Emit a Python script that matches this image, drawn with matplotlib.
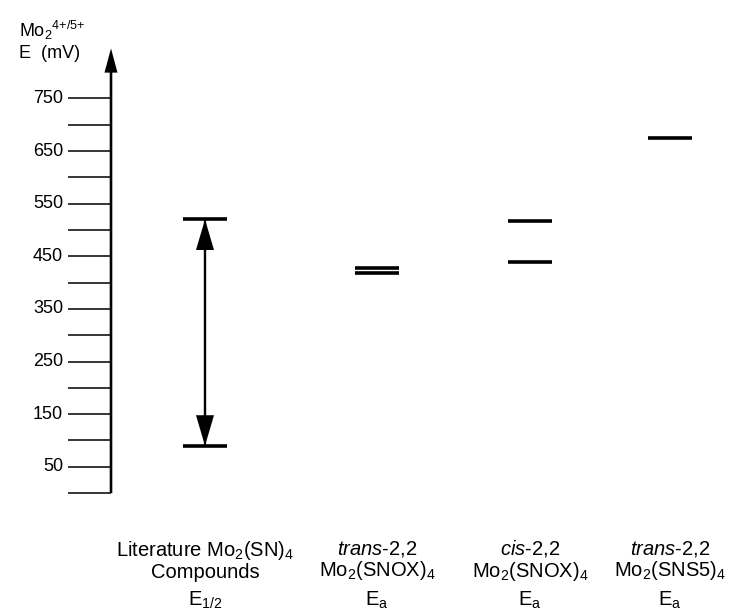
import matplotlib
matplotlib.use("Agg")
import matplotlib.pyplot as plt

plt.rcParams['font.family'] = ['Liberation Sans', 'DejaVu Sans']
plt.rcParams['mathtext.fontset'] = 'custom'
plt.rcParams['mathtext.rm'] = 'Liberation Sans'
plt.rcParams['mathtext.it'] = 'Liberation Sans:italic'
plt.rcParams['mathtext.default'] = 'regular'

# potentials (mV) for each compound group
lit_levels = [520, 90]
trans_snox = [428, 418]
cis_snox = [517, 440]
trans_sns5 = [674]

groups = [
    r"Literature Mo$_2$(SN)$_4$" + "\nCompounds",
    r"$\mathit{trans}$-2,2" + "\n" + r"Mo$_2$(SNOX)$_4$",
    r"$\mathit{cis}$-2,2" + "\n" + r"Mo$_2$(SNOX)$_4$",
    r"$\mathit{trans}$-2,2" + "\n" + r"Mo$_2$(SNS5)$_4$",
]
e_labels = [r"E$_{1/2}$", r"E$_a$", r"E$_a$", r"E$_a$"]
level_sets = [lit_levels, trans_snox, cis_snox, trans_sns5]

tick_vals = list(range(0, 800, 50))
label_vals = list(range(50, 800, 100))

fig = plt.figure(figsize=(7.30, 6.11), dpi=100)
ax = fig.add_axes([0, 0, 1, 1])
ax.set_xlim(0, 730)
ax.set_ylim(-224, 937)
ax.axis('off')

x_axis = 111
centers = [205, 377, 530, 670]
half = 22

# vertical axis with arrow
ax.arrow(x_axis, 0, 0, 845, width=2.6, head_width=13, head_length=46,
         length_includes_head=True, color='black', lw=0)

for v in tick_vals:
    ax.hlines(v, 68, x_axis, color='black', lw=1.1)
for v in label_vals:
    ax.text(63, v, str(v), ha='right', va='center', fontsize=13)

ax.text(19, 880, r"Mo$_2$$^{4{+}/5{+}}$", ha='left', va='center', fontsize=13)
ax.text(19, 836, "E  (mV)", ha='left', va='center', fontsize=13)

# energy levels
for c, levels in zip(centers, level_sets):
    for v in levels:
        ax.hlines(v, c - half, c + half, color='black', lw=2.6)

# range of literature values, double-headed arrow (two overlapping arrows)
top, bottom = lit_levels
ax.arrow(centers[0], bottom, 0, top - bottom, width=2.2, head_width=18,
         head_length=58, length_includes_head=True, color='black', lw=0)
ax.arrow(centers[0], top, 0, bottom - top, width=2.2, head_width=18,
         head_length=58, length_includes_head=True, color='black', lw=0)

for c, g, e in zip(centers, groups, e_labels):
    ax.text(c, -128, g, ha='center', va='center', fontsize=14.5, linespacing=1.05)
    ax.text(c, -203, e, ha='center', va='center', fontsize=14.5)

fig.savefig("out.png", dpi=100)
